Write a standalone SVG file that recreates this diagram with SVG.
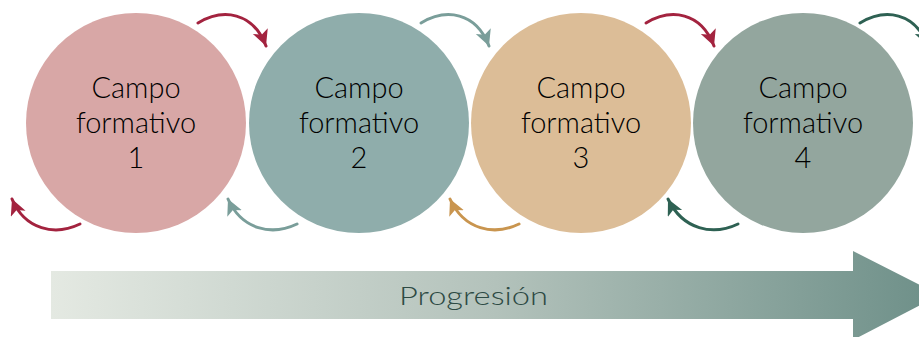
<svg xmlns="http://www.w3.org/2000/svg" width="919" height="337" viewBox="0 0 919 337">
<style>
.lbl{font-family:Lato,"Noto Sans","Liberation Sans",sans-serif;font-weight:300;font-size:29px;fill:#000000;text-anchor:middle}
.arr{fill:none;stroke-width:3;stroke-linecap:round}
</style>
<defs>
<marker id="mR" markerUnits="userSpaceOnUse" markerWidth="18" markerHeight="18" refX="16" refY="8" orient="auto"><path d="M0,0 L16,8 L0,16 L4,8 z" fill="#a3233f"/></marker>
<marker id="mT" markerUnits="userSpaceOnUse" markerWidth="18" markerHeight="18" refX="16" refY="8" orient="auto"><path d="M0,0 L16,8 L0,16 L4,8 z" fill="#7a9e9a"/></marker>
<marker id="mG" markerUnits="userSpaceOnUse" markerWidth="18" markerHeight="18" refX="16" refY="8" orient="auto"><path d="M0,0 L16,8 L0,16 L4,8 z" fill="#c9954f"/></marker>
<marker id="mD" markerUnits="userSpaceOnUse" markerWidth="18" markerHeight="18" refX="16" refY="8" orient="auto"><path d="M0,0 L16,8 L0,16 L4,8 z" fill="#2e6153"/></marker>
<linearGradient id="prog" x1="0" y1="0" x2="1" y2="0">
<stop offset="0" stop-color="#e4e9e2"/>
<stop offset="0.5" stop-color="#b3c2bb"/>
<stop offset="1" stop-color="#6d8f88"/>
</linearGradient>
</defs>
<g id="node1"><circle cx="136" cy="123" r="110" fill="#d8a7a6"/><text class="lbl" x="136" y="98">Campo</text><text class="lbl" x="136" y="133">formativo</text><text class="lbl" x="136" y="168">1</text></g>
<g id="node2"><circle cx="359" cy="123" r="110" fill="#8fadab"/><text class="lbl" x="359" y="98">Campo</text><text class="lbl" x="359" y="133">formativo</text><text class="lbl" x="359" y="168">2</text></g>
<g id="node3"><circle cx="581" cy="123" r="110" fill="#dcbd97"/><text class="lbl" x="581" y="98">Campo</text><text class="lbl" x="581" y="133">formativo</text><text class="lbl" x="581" y="168">3</text></g>
<g id="node4"><circle cx="803" cy="123" r="110" fill="#93a69e"/><text class="lbl" x="803" y="98">Campo</text><text class="lbl" x="803" y="133">formativo</text><text class="lbl" x="803" y="168">4</text></g>
<g id="connectors">
<path class="arr" stroke="#a3233f" marker-end="url(#mR)" d="M198,23 C223,8 253,12 266,46"/>
<path class="arr" stroke="#7a9e9a" marker-end="url(#mT)" d="M421,23 C446,8 476,12 489,46"/>
<path class="arr" stroke="#a3233f" marker-end="url(#mR)" d="M646,23 C671,8 701,12 714,46"/>
<path class="arr" stroke="#2e6153" marker-end="url(#mD)" d="M860,23 C885,8 915,12 928,46"/>
<path class="arr" stroke="#a3233f" marker-end="url(#mR)" d="M80,224 C55,236 25,230 12,199"/>
<path class="arr" stroke="#7a9e9a" marker-end="url(#mT)" d="M297,224 C272,236 242,230 228,199"/>
<path class="arr" stroke="#c9954f" marker-end="url(#mG)" d="M519,224 C494,236 464,230 450,199"/>
<path class="arr" stroke="#2e6153" marker-end="url(#mD)" d="M738,224 C713,236 683,230 668,199"/>
</g>
<g id="progress">
<path d="M51,271 L853,271 L853,251 L940,295 L853,340 L853,319 L51,319 Z" fill="url(#prog)"/>
<text x="399" y="305" textLength="149" lengthAdjust="spacingAndGlyphs" style="font-family:Lato,'Noto Sans',sans-serif;font-weight:300;font-size:25px;fill:#2d4a44">Progresión</text>
</g>
</svg>
